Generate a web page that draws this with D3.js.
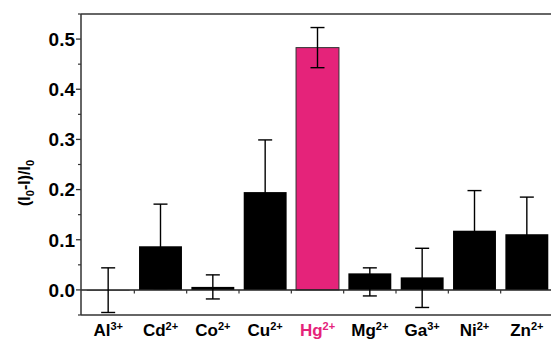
<!DOCTYPE html>
<html><head><meta charset="utf-8">
<script src="https://cdn.jsdelivr.net/npm/d3@7"></script>
<style>
body{margin:0;background:#fff;}
svg{display:block;font-family:"Liberation Sans",Arial,sans-serif;font-weight:bold;}
</style></head>
<body>
<svg id="c" width="551" height="340"></svg>
<script>
const ions = ["Al","Cd","Co","Cu","Hg","Mg","Ga","Ni","Zn"];
const charges = ["3+","2+","2+","2+","2+","2+","3+","2+","2+"];
const values = [-0.001, 0.087, 0.006, 0.195, 0.483, 0.033, 0.025, 0.118, 0.111];
const errUp = [0.045, 0.084, 0.024, 0.104, 0.040, 0.011, 0.058, 0.080, 0.074];
const errDown = [0.044, 0.084, 0.024, 0.104, 0.040, 0.045, 0.060, 0.080, 0.074];
const highlight = "Hg";
const yTicks = [0.0, 0.1, 0.2, 0.3, 0.4, 0.5];
const yMinor = [-0.05, 0.05, 0.15, 0.25, 0.35, 0.45, 0.55];

const svg = d3.select("#c");
const L = 81, R = 553, T = 14, B = 315;
const pink = "#e5237a";
const x = d3.scaleBand().domain(ions).range([L + 1, R]).paddingInner(0.18).paddingOuter(0.09);
const y = d3.scaleLinear().domain([-0.05, 0.55]).range([B, T]);

// bars
ions.forEach((k, i) => {
  const v = values[i];
  svg.append("rect")
    .attr("x", x(k)).attr("width", x.bandwidth())
    .attr("y", y(Math.max(0, v))).attr("height", Math.abs(y(v) - y(0)))
    .attr("fill", k === highlight ? pink : "#000")
    .attr("stroke", k === highlight ? "#333" : "none").attr("stroke-width", 1);
});

// zero line
svg.append("line").attr("x1", L).attr("x2", R).attr("y1", y(0)).attr("y2", y(0))
  .attr("stroke", "#222").attr("stroke-width", 1.5);
// ticks at category boundaries
ions.slice(1).forEach(k => {
  const bx = x(k) - x.step() * x.paddingInner() / 2;
  svg.append("line").attr("x1", bx).attr("x2", bx).attr("y1", y(0)).attr("y2", y(0) + 3.5)
    .attr("stroke", "#333").attr("stroke-width", 1.2);
});

// error bars
ions.forEach((k, i) => {
  const cx = x(k) + x.bandwidth() / 2;
  const top = y(values[i] + errUp[i]), bot = y(values[i] - errDown[i]);
  const g = svg.append("g").attr("stroke", "#000").attr("stroke-width", 1.4);
  g.append("line").attr("x1", cx).attr("x2", cx).attr("y1", top).attr("y2", bot);
  g.append("line").attr("x1", cx - 7).attr("x2", cx + 7).attr("y1", top).attr("y2", top);
  g.append("line").attr("x1", cx - 7).attr("x2", cx + 7).attr("y1", bot).attr("y2", bot);
});

// frame
const fr = svg.append("g").attr("stroke", "#333").attr("stroke-width", 1.5).attr("fill", "none");
fr.append("line").attr("x1", L).attr("x2", R).attr("y1", T).attr("y2", T);
fr.append("line").attr("x1", L).attr("x2", R).attr("y1", B).attr("y2", B);
fr.append("line").attr("x1", L).attr("x2", L).attr("y1", T).attr("y2", B);

// y ticks
yTicks.forEach(t => {
  svg.append("line").attr("x1", L - 5).attr("x2", L).attr("y1", y(t)).attr("y2", y(t))
    .attr("stroke", "#333").attr("stroke-width", 1.3);
  svg.append("text").attr("x", L - 6).attr("y", y(t)).attr("dy", "0.36em")
    .attr("text-anchor", "end").attr("font-size", 19).attr("fill", "#000").text(t.toFixed(1));
});
yMinor.forEach(t => {
  svg.append("line").attr("x1", L - 3).attr("x2", L).attr("y1", y(t)).attr("y2", y(t))
    .attr("stroke", "#333").attr("stroke-width", 1.2);
});

// x labels
ions.forEach((k, i) => {
  const t = svg.append("text").attr("x", x(k) + x.bandwidth() / 2).attr("y", 336)
    .attr("text-anchor", "middle").attr("font-size", 17)
    .attr("fill", k === highlight ? pink : "#000");
  t.append("tspan").text(k);
  t.append("tspan").attr("font-size", 11).attr("dy", -6).text(charges[i]);
});

// y label
const yl = svg.append("text").attr("transform", "translate(30,183) rotate(-90)")
  .attr("text-anchor", "middle").attr("font-size", 16).attr("fill", "#000");
yl.append("tspan").text("(I");
yl.append("tspan").attr("font-size", 11).attr("dy", 4).text("0");
yl.append("tspan").attr("dy", -4).text("-I)/I");
yl.append("tspan").attr("font-size", 11).attr("dy", 4).text("0");
</script>
</body></html>
